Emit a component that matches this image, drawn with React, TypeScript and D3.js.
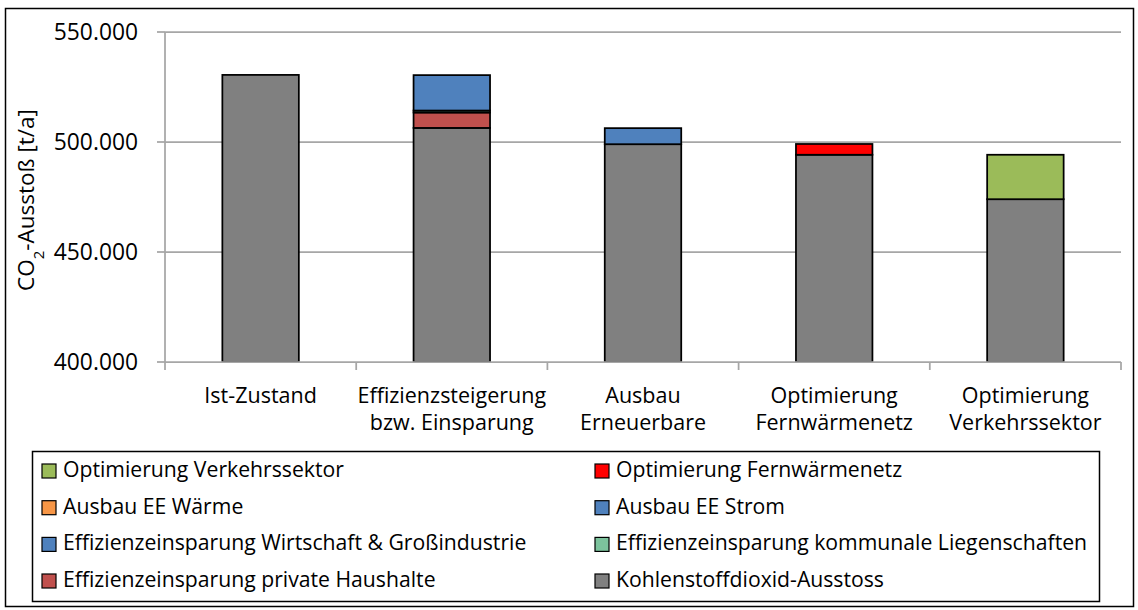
import React from "react";
import * as d3 from "d3";

const categories = [
  ["Ist-Zustand"],
  ["Effizienzsteigerung", "bzw. Einsparung"],
  ["Ausbau", "Erneuerbare"],
  ["Optimierung", "Fernwärmenetz"],
  ["Optimierung", "Verkehrssektor"],
];
const categoryKeys = ["ist", "eff", "ee", "fw", "vk"];

// series from bottom of stack to top
const seriesNames = [
  "Kohlenstoffdioxid-Ausstoss",
  "Effizienzeinsparung private Haushalte",
  "Effizienzeinsparung kommunale Liegenschaften",
  "Effizienzeinsparung Wirtschaft & Großindustrie",
  "Ausbau EE Strom",
  "Ausbau EE Wärme",
  "Optimierung Fernwärmenetz",
  "Optimierung Verkehrssektor",
];
const seriesColors = [
  "#808080",
  "#c0504d",
  "#7cc39d",
  "#4f81bd",
  "#4f81bd",
  "#f79646",
  "#ff0000",
  "#9bbb59",
];
const kohlenstoff = [530500, 506400, 499000, 494200, 474000];
const privat = [0, 7000, 0, 0, 0];
const kommunal = [0, 900, 0, 0, 0];
const wirtschaft = [0, 16100, 0, 0, 0];
const eeStrom = [0, 0, 7300, 0, 0];
const eeWaerme = [0, 0, 0, 0, 0];
const fernwaerme = [0, 0, 0, 4900, 0];
const verkehr = [0, 0, 0, 0, 20200];
const seriesValues = [kohlenstoff, privat, kommunal, wirtschaft, eeStrom, eeWaerme, fernwaerme, verkehr];

const yTicks = [400000, 450000, 500000, 550000];
const legendOrder = [7, 6, 5, 4, 3, 2, 1, 0];

const FONT = "'Open Sans', sans-serif";

export default function App() {
  const left = 165, right = 1121, top = 32, bottom = 362;
  const yMin = 400000;
  const y = d3.scaleLinear().domain([yMin, 550000]).range([bottom, top]);
  const x = d3.scaleBand().domain(categoryKeys).range([left, right]).paddingInner(0.6).paddingOuter(0.3);
  const step = x.step();
  const fmt = d3.formatLocale({ decimal: ",", thousands: ".", grouping: [3], currency: ["", "€"] }).format(",");

  const rows = categoryKeys.map((k, i) => {
    const r: any = { key: k };
    seriesNames.forEach((s, j) => (r[s] = seriesValues[j][i]));
    return r;
  });
  const stacked = d3.stack<any>().keys(seriesNames)(rows);

  const gridColor = "#a6a6a6";
  const legendRowY = [477, 513.7, 550.4, 587];
  const legendColX = [42, 595];

  return (
    <svg width={1138} height={610} style={{ position: "absolute", left: 0, top: 0, background: "#fff" }}>
      <rect x={5.5} y={8.5} width={1128} height={598} fill="#fff" stroke="#000" strokeWidth={1.5} />
      {/* gridlines */}
      {yTicks.slice(1).map((t) => (
        <line key={t} x1={left} x2={right} y1={y(t)} y2={y(t)} stroke={gridColor} strokeWidth={1.75} />
      ))}
      {/* y axis */}
      <line x1={left} x2={left} y1={top} y2={bottom} stroke={gridColor} strokeWidth={1.75} />
      {yTicks.map((t) => (
        <g key={t}>
          <line x1={left - 8} x2={left} y1={y(t)} y2={y(t)} stroke={gridColor} strokeWidth={1.75} />
          <text x={138} y={y(t) + 8} textAnchor="end" fontFamily={FONT} fontSize={22.8} fill="#000">
            {fmt(t)}
          </text>
        </g>
      ))}
      {/* bars */}
      {stacked.map((s, j) => (
        <g key={s.key}>
          {s.map((d, i) => {
            if (d[1] - d[0] <= 0) return null;
            const lo = Math.max(d[0], yMin);
            const xx = x(categoryKeys[i])!;
            return (
              <rect
                key={i}
                x={xx}
                y={y(d[1])}
                width={x.bandwidth()}
                height={y(lo) - y(d[1])}
                fill={seriesColors[j]}
                stroke="#000"
                strokeWidth={1.75}
              />
            );
          })}
        </g>
      ))}
      {/* x axis */}
      <line x1={left} x2={right} y1={bottom} y2={bottom} stroke={gridColor} strokeWidth={1.75} />
      {d3.range(categoryKeys.length + 1).map((i) => (
        <line key={i} x1={left + i * step} x2={left + i * step} y1={bottom} y2={bottom + 8} stroke={gridColor} strokeWidth={1.75} />
      ))}
      {/* x labels */}
      {categories.map((lines, i) => (
        <text key={i} textAnchor="middle" fontFamily={FONT} fontSize={21.5} fill="#000">
          {lines.map((l, k) => (
            <tspan key={k} x={x(categoryKeys[i])! + x.bandwidth() / 2} y={403 + k * 27}>
              {l}
            </tspan>
          ))}
        </text>
      ))}
      {/* y title */}
      <text transform={`translate(34,${(top + bottom) / 2 + 3}) rotate(-90)`} textAnchor="middle" fontFamily={FONT} fontSize={22.5} fill="#000">
        CO<tspan baselineShift="sub" fontSize={15}>2</tspan>-Ausstoß [t/a]
      </text>
      {/* legend */}
      <rect x={32.5} y={451.5} width={1067} height={150} fill="#fff" stroke="#000" strokeWidth={1.5} />
      {legendOrder.map((si, idx) => {
        const col = idx % 2;
        const row = Math.floor(idx / 2);
        const lx = legendColX[col];
        const ly = legendRowY[row];
        return (
          <g key={si}>
            <rect x={lx} y={ly - 13} width={14} height={14} fill={seriesColors[si]} stroke="#000" strokeWidth={1.2} />
            <text x={lx + 21} y={ly} fontFamily={FONT} fontSize={21.2} fill="#000">
              {seriesNames[si]}
            </text>
          </g>
        );
      })}
    </svg>
  );
}
